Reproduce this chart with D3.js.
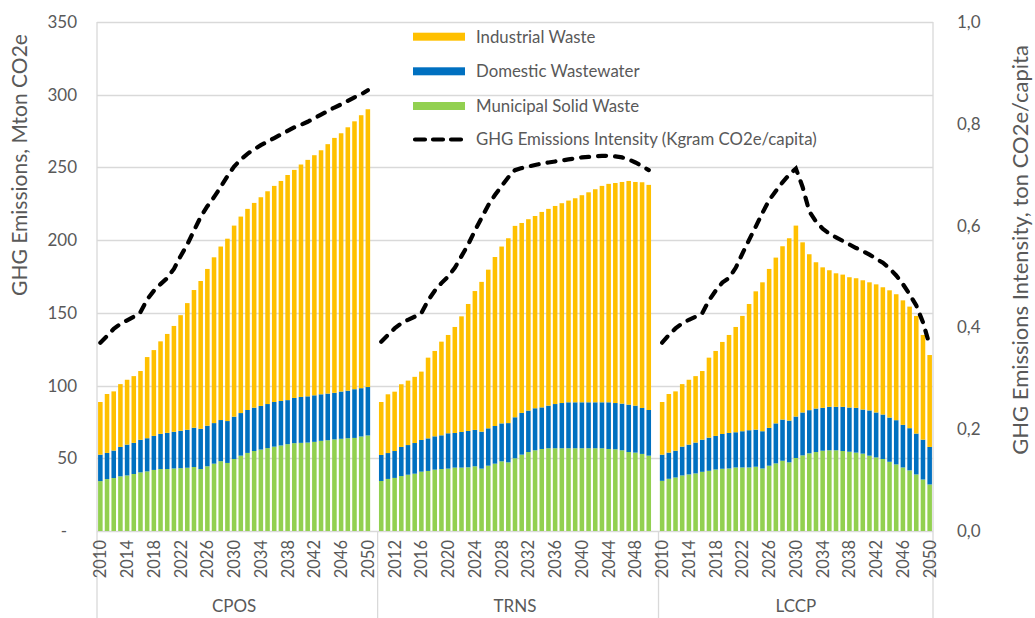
<!DOCTYPE html>
<html>
<head>
<meta charset="utf-8">
<script src="https://cdn.jsdelivr.net/npm/d3@7"></script>
<style>
	body { margin: 0; background: #fff; }
	svg { display: block; font-family: Lato, "Open Sans", sans-serif; }
</style>
</head>
<body>
<svg id="chart"></svg>
<script>
const scenarios = ['CPOS', 'TRNS', 'LCCP'];
const years = d3.range(2010, 2051);

// year labels shown under each scenario
const cposTickYears = [2010, 2014, 2018, 2022, 2026, 2030, 2034, 2038, 2042, 2046, 2050];
const trnsTickYears = [2012, 2016, 2020, 2024, 2028, 2032, 2036, 2040, 2044, 2048];
const lccpTickYears = [2010, 2014, 2018, 2022, 2026, 2030, 2034, 2038, 2042, 2046, 2050];

const leftTicks = [0, 50, 100, 150, 200, 250, 300, 350];
const rightTicks = [0, 0.2, 0.4, 0.6, 0.8, 1.0];

// Mton CO2e
const mswCPOS = [34.3, 35.7, 36.4, 37.6, 38.2, 39.2, 40.3, 41.0, 42.0, 42.6, 42.6, 43.0, 43.2, 43.5, 44.0, 42.6, 44.5, 46.3, 48.0, 46.8, 49.5, 51.8, 53.7, 55.0, 56.0, 57.0, 58.0, 58.8, 59.7, 60.4, 60.6, 60.8, 61.3, 62.0, 62.4, 63.0, 63.4, 63.8, 64.0, 65.0, 65.7];
const dwwCPOS = [18.2, 18.0, 18.9, 20.2, 21.2, 21.4, 22.4, 22.8, 23.4, 24.2, 24.9, 25.2, 25.7, 26.1, 27.0, 27.7, 27.9, 27.9, 28.3, 28.8, 29.1, 29.3, 29.5, 29.8, 30.0, 30.3, 30.7, 30.6, 30.3, 31.1, 31.6, 31.8, 32.0, 32.0, 32.1, 32.0, 32.5, 32.7, 33.5, 33.2, 33.3];
const indCPOS = [36.2, 40.5, 40.7, 43.2, 44.6, 45.9, 47.3, 55.8, 59.0, 63.6, 68.0, 72.8, 79.5, 87.1, 94.7, 101.6, 107.8, 114.0, 119.3, 125.4, 131.4, 135.1, 138.3, 140.8, 143.5, 146.3, 148.6, 151.3, 154.8, 156.8, 159.8, 162.6, 165.1, 167.8, 171.5, 175.3, 177.6, 181.1, 184.2, 187.7, 191.0];

const mswTRNS = [34.4, 35.8, 36.5, 37.8, 38.7, 39.4, 40.8, 41.3, 42.2, 42.6, 42.9, 43.6, 43.6, 43.8, 44.5, 42.9, 44.9, 46.3, 47.9, 47.2, 50.0, 52.5, 54.3, 55.5, 56.4, 56.9, 56.9, 56.9, 56.9, 56.9, 56.9, 56.9, 56.9, 56.9, 56.4, 56.2, 55.5, 54.3, 53.9, 53.0, 51.8];
const dwwTRNS = [17.9, 17.8, 18.5, 20.0, 20.4, 21.1, 21.8, 22.4, 22.9, 23.2, 24.3, 23.8, 24.5, 25.0, 25.0, 25.4, 25.7, 25.9, 26.1, 27.0, 28.2, 28.7, 28.5, 28.9, 28.6, 29.3, 30.4, 31.1, 31.6, 31.6, 31.6, 31.6, 31.6, 31.6, 32.1, 31.8, 32.1, 32.6, 32.3, 31.6, 31.4];
const indTRNS = [36.4, 40.4, 40.8, 43.1, 44.3, 45.5, 47.0, 55.5, 58.7, 64.4, 67.6, 72.9, 79.5, 87.3, 95.5, 103.0, 109.1, 116.2, 121.6, 127.1, 131.6, 130.6, 131.6, 132.2, 134.4, 135.3, 136.2, 137.4, 138.7, 140.3, 142.4, 144.4, 146.5, 148.8, 150.2, 151.3, 152.4, 153.8, 153.8, 155.2, 154.8];

const mswLCCP = [34.5, 35.9, 36.8, 38.2, 38.9, 39.6, 40.7, 41.4, 42.3, 42.8, 43.0, 43.7, 43.7, 43.7, 44.2, 43.0, 44.9, 46.5, 48.3, 47.2, 50.2, 52.0, 53.4, 54.3, 55.2, 55.5, 55.5, 55.0, 54.5, 53.9, 53.2, 51.8, 50.6, 49.5, 47.6, 45.8, 43.7, 41.7, 38.9, 35.4, 32.0];
const dwwLCCP = [18.0, 18.0, 18.4, 19.8, 20.5, 21.2, 22.1, 22.8, 23.1, 23.9, 24.4, 24.2, 24.9, 25.6, 25.5, 25.6, 26.0, 27.5, 28.3, 28.7, 28.5, 29.5, 29.7, 29.9, 29.5, 29.9, 29.9, 30.4, 30.4, 30.8, 30.3, 31.1, 30.9, 30.6, 30.4, 30.4, 29.3, 29.0, 28.1, 27.4, 25.8];
const indLCCP = [36.2, 40.3, 40.8, 43.0, 44.6, 45.7, 47.2, 55.0, 58.4, 63.3, 67.4, 72.4, 79.3, 86.8, 95.1, 102.4, 109.3, 114.0, 119.2, 125.4, 131.3, 117.0, 107.2, 100.6, 96.6, 93.9, 91.8, 90.9, 89.6, 89.1, 88.9, 88.1, 88.1, 87.5, 87.5, 86.6, 85.6, 83.6, 80.9, 72.0, 63.2];

// ton CO2e/capita
const intCPOS = [0.370, 0.383, 0.397, 0.407, 0.414, 0.421, 0.430, 0.455, 0.472, 0.485, 0.497, 0.515, 0.540, 0.563, 0.590, 0.617, 0.638, 0.656, 0.676, 0.697, 0.716, 0.730, 0.741, 0.750, 0.758, 0.765, 0.772, 0.779, 0.786, 0.793, 0.798, 0.804, 0.811, 0.818, 0.825, 0.832, 0.838, 0.845, 0.852, 0.858, 0.866];
const intTRNS = [0.372, 0.385, 0.398, 0.408, 0.415, 0.421, 0.428, 0.453, 0.472, 0.487, 0.500, 0.517, 0.540, 0.563, 0.590, 0.615, 0.640, 0.660, 0.678, 0.695, 0.709, 0.713, 0.716, 0.719, 0.722, 0.724, 0.726, 0.728, 0.730, 0.732, 0.734, 0.735, 0.736, 0.737, 0.737, 0.736, 0.734, 0.730, 0.724, 0.717, 0.709];
const intLCCP = [0.370, 0.385, 0.398, 0.408, 0.415, 0.421, 0.428, 0.453, 0.472, 0.488, 0.497, 0.517, 0.545, 0.572, 0.598, 0.625, 0.650, 0.668, 0.685, 0.700, 0.712, 0.676, 0.628, 0.608, 0.594, 0.584, 0.577, 0.570, 0.563, 0.556, 0.550, 0.543, 0.535, 0.527, 0.516, 0.502, 0.485, 0.465, 0.443, 0.410, 0.365];

const seriesNames = ['Industrial Waste', 'Domestic Wastewater', 'Municipal Solid Waste'];
const lineName = 'GHG Emissions Intensity (Kgram CO2e/capita)';

const WIDTH = 1035;
const HEIGHT = 618;
const PLOT = { left: 97, right: 933, top: 22, bottom: 531 };
const TEXT = '#595959';
const GRID = '#d9d9d9';
const COLORS = { msw: '#92d050', dww: '#0070c0', ind: '#ffc000' };

function buildRows() {
	const source = {
		CPOS: [mswCPOS, dwwCPOS, indCPOS, intCPOS],
		TRNS: [mswTRNS, dwwTRNS, indTRNS, intTRNS],
		LCCP: [mswLCCP, dwwLCCP, indLCCP, intLCCP],
	};
	return scenarios.map(scenario => {
		const [msw, dww, ind, intensity] = source[scenario];
		return years.map((year, i) => ({
			key: `${scenario}-${year}`,
			scenario,
			year,
			msw: msw[i],
			dww: dww[i],
			ind: ind[i],
			intensity: intensity[i],
		}));
	});
}

function render() {
	const groups = buildRows();
	const rows = groups.flat();

	// one empty slot between scenarios, like the source chart
	const slots = [];
	groups.forEach((g, i) => {
		if (i > 0) slots.push(`gap-${i}`);
		g.forEach(d => slots.push(d.key));
	});

	const x = d3.scaleBand()
		.domain(slots)
		.range([PLOT.left, PLOT.right])
		.paddingInner(0.32)
		.paddingOuter(0.16);
	const y = d3.scaleLinear().domain([0, 350]).range([PLOT.bottom, PLOT.top]);
	const yR = d3.scaleLinear().domain([0, 1]).range([PLOT.bottom, PLOT.top]);
	const cx = key => x(key) + x.bandwidth() / 2;

	const svg = d3.select('#chart')
		.attr('width', WIDTH)
		.attr('height', HEIGHT);
	svg.append('rect').attr('width', WIDTH).attr('height', HEIGHT).attr('fill', '#fff');

	// gridlines
	svg.append('g')
		.selectAll('line')
		.data(leftTicks)
		.enter()
		.append('line')
		.attr('x1', PLOT.left)
		.attr('x2', PLOT.right)
		.attr('y1', d => Math.round(y(d)) + 0.5)
		.attr('y2', d => Math.round(y(d)) + 0.5)
		.attr('stroke', GRID)
		.attr('stroke-width', 1.3);

	// frame and scenario separators
	const sepX = [PLOT.left, x('TRNS-2010') - x.step() * 0.2, x('LCCP-2010') - x.step() * 0.2, PLOT.right];
	svg.append('g')
		.selectAll('line')
		.data(sepX)
		.enter()
		.append('line')
		.attr('x1', d => d)
		.attr('x2', d => d)
		.attr('y1', (d, i) => (i === 0 || i === 3 ? PLOT.top : PLOT.bottom))
		.attr('y2', HEIGHT)
		.attr('stroke', GRID)
		.attr('stroke-width', 1.3);

	// stacked bars
	const stack = d3.stack().keys(['msw', 'dww', 'ind']);
	const layers = stack(rows);
	svg.append('g')
		.selectAll('g')
		.data(layers)
		.enter()
		.append('g')
		.attr('fill', d => COLORS[d.key])
		.selectAll('rect')
		.data(d => d)
		.enter()
		.append('rect')
		.attr('x', d => x(d.data.key))
		.attr('width', x.bandwidth())
		.attr('y', d => y(d[1]))
		.attr('height', d => y(d[0]) - y(d[1]));

	// intensity lines
	const line = d3.line()
		.x(d => cx(d.key))
		.y(d => yR(d.intensity));
	svg.append('g')
		.selectAll('path')
		.data(groups)
		.enter()
		.append('path')
		.attr('d', line)
		.attr('fill', 'none')
		.attr('stroke', '#000')
		.attr('stroke-width', 4.2)
		.attr('stroke-linecap', 'round')
		.attr('stroke-dasharray', '8,9');

	// left axis
	const leftAxis = d3.axisLeft(y)
		.tickValues(leftTicks)
		.tickSize(0)
		.tickPadding(PLOT.left - 77)
		.tickFormat(d => (d === 0 ? '-' : d));
	const gl = svg.append('g').attr('transform', `translate(${PLOT.left},0)`).call(leftAxis);
	gl.select('.domain').remove();
	gl.selectAll('text')
		.attr('font-family', 'Lato, sans-serif')
		.attr('font-size', 17)
		.attr('fill', TEXT)
		.filter(d => d === 0)
		.attr('dx', -10);

	// right axis
	const commaFormat = d3.formatLocale({ decimal: ',', thousands: '.', grouping: [3], currency: ['', ''] }).format('.1f');
	const rightAxis = d3.axisRight(yR)
		.tickValues(rightTicks)
		.tickSize(0)
		.tickPadding(957 - PLOT.right)
		.tickFormat(commaFormat);
	const gr = svg.append('g').attr('transform', `translate(${PLOT.right},0)`).call(rightAxis);
	gr.select('.domain').remove();
	gr.selectAll('text')
		.attr('font-family', 'Lato, sans-serif')
		.attr('font-size', 17)
		.attr('fill', TEXT);

	// year labels
	const tickYears = { CPOS: cposTickYears, TRNS: trnsTickYears, LCCP: lccpTickYears };
	const yearLabels = [];
	scenarios.forEach(s => tickYears[s].forEach(year => yearLabels.push({ key: `${s}-${year}`, year })));
	svg.append('g')
		.selectAll('text')
		.data(yearLabels)
		.enter()
		.append('text')
		.attr('transform', d => `translate(${cx(d.key)},${PLOT.bottom + 9}) rotate(-90)`)
		.attr('text-anchor', 'end')
		.attr('dy', '0.36em')
		.attr('font-size', 16.5)
		.attr('fill', TEXT)
		.text(d => d.year);

	// scenario labels
	svg.append('g')
		.selectAll('text')
		.data(groups)
		.enter()
		.append('text')
		.attr('x', d => (cx(d[0].key) + cx(d[d.length - 1].key)) / 2)
		.attr('y', 612)
		.attr('text-anchor', 'middle')
		.attr('font-size', 17)
		.attr('fill', TEXT)
		.text(d => d[0].scenario);

	// axis titles
	svg.append('text')
		.attr('transform', 'translate(20,165) rotate(-90)')
		.attr('text-anchor', 'middle')
		.attr('dy', '0.35em')
		.attr('font-size', 21)
		.attr('fill', TEXT)
		.text('GHG Emissions, Mton CO2e');
	svg.append('text')
		.attr('transform', 'translate(1020,250) rotate(-90)')
		.attr('text-anchor', 'middle')
		.attr('dy', '0.35em')
		.attr('font-size', 22)
		.attr('fill', TEXT)
		.text('GHG Emissions Intensity, ton CO2e/capita');

	// legend
	const legendItems = [
		{ name: seriesNames[0], color: COLORS.ind },
		{ name: seriesNames[1], color: COLORS.dww },
		{ name: seriesNames[2], color: COLORS.msw },
		{ name: lineName, dashed: true },
	];
	const legendY = [36.7, 71.3, 106, 139.5];
	const legend = svg.append('g')
		.selectAll('g')
		.data(legendItems)
		.enter()
		.append('g')
		.attr('transform', (d, i) => `translate(413,${legendY[i]})`);
	legend.filter(d => !d.dashed)
		.append('rect')
		.attr('x', 0)
		.attr('y', -4)
		.attr('width', 52)
		.attr('height', 8)
		.attr('fill', d => d.color);
	legend.filter(d => d.dashed)
		.append('line')
		.attr('x1', 2)
		.attr('x2', 50)
		.attr('stroke', '#000')
		.attr('stroke-width', 4.2)
		.attr('stroke-linecap', 'round')
		.attr('stroke-dasharray', '10,8');
	legend.append('text')
		.attr('x', 63)
		.attr('dy', '0.35em')
		.attr('font-size', 16.8)
		.attr('fill', TEXT)
		.text(d => d.name);
}

document.addEventListener('DOMContentLoaded', () => {
	render();
});
</script>
</body>
</html>
